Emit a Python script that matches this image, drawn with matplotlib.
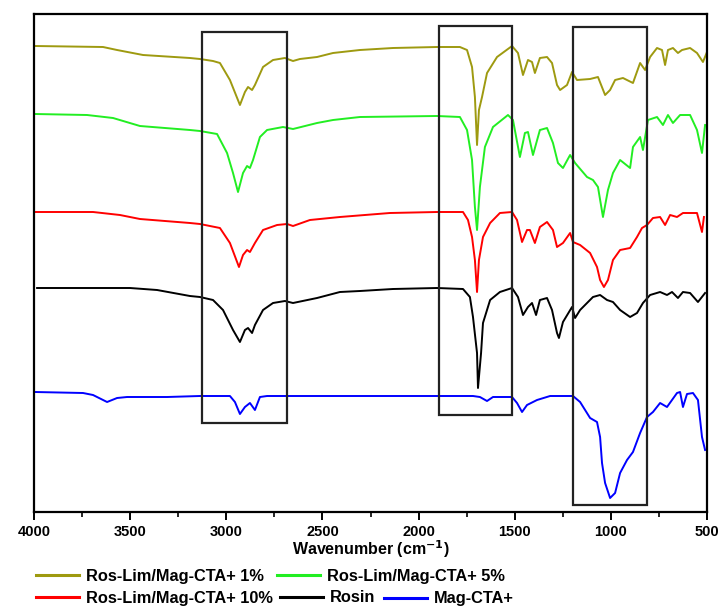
import matplotlib
matplotlib.use("Agg")
import matplotlib.pyplot as plt
from matplotlib.patches import Rectangle
from matplotlib.ticker import MultipleLocator

plt.rcParams['font.family'] = ['Liberation Sans', 'DejaVu Sans']
plt.rcParams['font.weight'] = 'bold'

# ---- data (wavenumber cm^-1, offset transmittance a.u.) ----
wn_1 = [3995, 3641, 3568, 3433, 3189, 3137, 3069, 3033, 2981, 2929, 2903, 2887, 2866, 2851,
        2809, 2757, 2695, 2653, 2617, 2528, 2445, 2305, 2133, 1904, 1785, 1748, 1722, 1707,
        1696, 1686, 1670, 1644, 1592, 1514, 1483, 1457, 1431, 1410, 1395, 1369, 1332, 1306,
        1280, 1264, 1228, 1202, 1176, 1108, 1067, 1030, 1004, 978, 937, 885, 848, 822, 796,
        760, 734, 718, 703, 677, 651, 630, 588, 552, 521, 500]
t_1 = [466, 465, 462, 457, 454, 453, 451, 449, 432, 407, 420, 425, 422, 427,
       445, 452, 454, 451, 453, 455, 459, 462, 464, 465, 465, 462, 445, 415,
       367, 402, 415, 439, 455, 466, 459, 437, 452, 450, 439, 454, 455, 449,
       427, 422, 427, 440, 432, 433, 435, 417, 422, 432, 434, 429, 449, 442, 455,
       464, 462, 447, 462, 464, 459, 462, 464, 459, 450, 460]

wn_5 = [3995, 3724, 3589, 3449, 3189, 3137, 3048, 2996, 2965, 2939, 2913, 2892, 2877, 2861,
        2825, 2788, 2705, 2653, 2528, 2445, 2305, 1904, 1785, 1748, 1722, 1707, 1696, 1681,
        1655, 1613, 1535, 1509, 1473, 1447, 1431, 1405, 1369, 1332, 1301, 1275, 1249, 1212,
        1186, 1124, 1093, 1067, 1041, 1015, 989, 952, 900, 885, 848, 833, 807, 760, 729,
        703, 677, 640, 588, 552, 526, 510]
t_5 = [398, 397, 394, 386, 382, 381, 378, 359, 339, 320, 339, 346, 344, 352,
       375, 382, 385, 383, 389, 392, 395, 396, 395, 382, 352, 305, 282, 325,
       365, 385, 397, 392, 355, 379, 380, 357, 382, 384, 369, 349, 344, 357,
       349, 335, 332, 325, 295, 322, 339, 352, 344, 365, 375, 362, 392, 395, 387,
       397, 389, 397, 397, 382, 359, 387]

wn_10 = [3995, 3693, 3553, 3449, 3189, 3137, 3033, 2981, 2934, 2913, 2892, 2877, 2851, 2809,
         2736, 2684, 2653, 2565, 2409, 2149, 1904, 1769, 1743, 1722, 1707, 1696, 1686, 1665,
         1628, 1577, 1514, 1488, 1462, 1436, 1421, 1395, 1369, 1332, 1301, 1280, 1249, 1212,
         1197, 1160, 1108, 1072, 1056, 1036, 1015, 989, 952, 900, 864, 838, 812, 781, 744,
         718, 692, 656, 625, 552, 526, 516]
t_10 = [300, 300, 297, 293, 289, 288, 284, 269, 245, 257, 262, 260, 269, 282,
        287, 288, 286, 292, 295, 299, 300, 300, 292, 275, 252, 220, 252, 275,
        289, 299, 300, 292, 270, 282, 282, 269, 285, 290, 282, 265, 269, 279,
        270, 267, 259, 245, 232, 225, 232, 252, 262, 264, 275, 284, 287, 294, 295,
        287, 297, 295, 299, 299, 280, 295]

wn_rosin = [3984, 3745, 3501, 3360, 3189, 3137, 3069, 3017, 2965, 2929, 2903, 2887, 2866, 2851,
            2809, 2757, 2695, 2653, 2528, 2409, 2305, 2133, 1904, 1769, 1733, 1717, 1696, 1691,
            1675, 1665, 1628, 1577, 1514, 1483, 1457, 1431, 1410, 1389, 1369, 1332, 1306, 1280,
            1270, 1249, 1202, 1186, 1160, 1093, 1056, 1020, 989, 952, 900, 864, 833, 796,
            744, 708, 682, 651, 625, 588, 547, 510]
t_rosin = [224, 224, 224, 222, 216, 215, 212, 202, 182, 170, 182, 184, 179, 187,
           202, 209, 211, 209, 214, 220, 221, 223, 224, 223, 215, 195, 159, 124,
           159, 189, 212, 220, 224, 215, 197, 205, 209, 197, 212, 214, 202, 179,
           174, 190, 205, 194, 202, 215, 217, 212, 210, 202, 195, 199, 209, 217,
           220, 217, 220, 214, 220, 219, 210, 219]

wn_mag = [3995, 3745, 3693, 3620, 3568, 3516, 3308, 3137, 2981, 2955, 2929, 2903, 2877, 2851,
          2825, 2788, 2305, 1717, 1681, 1644, 1613, 1514, 1488, 1462, 1436, 1384, 1316, 1197,
          1160, 1108, 1072, 1056, 1046, 1030, 1004, 978, 952, 916, 885, 848, 812, 781, 744,
          708, 656, 640, 625, 604, 573, 547, 526, 510]
t_mag = [120, 119, 117, 110, 114, 115, 115, 116, 116, 110, 98, 105, 109, 102,
         115, 116, 116, 116, 115, 111, 115, 115, 109, 100, 107, 112, 116, 116,
         110, 94, 90, 75, 49, 29, 14, 19, 39, 52, 60, 79, 95, 100, 109,
         105, 119, 120, 105, 118, 119, 112, 75, 62]

labels = ['Ros-Lim/Mag-CTA+ 1%', 'Ros-Lim/Mag-CTA+ 5%', 'Ros-Lim/Mag-CTA+ 10%',
          'Rosin', 'Mag-CTA+']
colors = ['#9E9A10', '#22EE22', '#FF0000', '#000000', '#0000FF']

# highlight boxes: (wn_high, wn_low, t_bottom, t_top)
boxes = [(3126, 2684, 89, 480), (1895, 1514, 97, 486), (1197, 812, 7, 485)]

fig = plt.figure(figsize=(7.21, 6.07), dpi=100)
ax = fig.add_axes([34/721, 1 - 512/607, (707 - 34)/721, (512 - 14)/607])

series = [(wn_1, t_1), (wn_5, t_5), (wn_10, t_10), (wn_rosin, t_rosin), (wn_mag, t_mag)]
handles = []
for (x, y), lab, c in zip(series, labels, colors):
    h, = ax.plot(x, y, color=c, lw=1.4, label=lab)
    handles.append(h)

for hi, lo, b, t in boxes:
    ax.add_patch(Rectangle((lo, b), hi - lo, t - b, fill=False, ec='#222222', lw=1.6, zorder=5))

ax.set_xlim(4000, 500)
ax.set_ylim(0, 498)
ax.set_yticks([])
ax.xaxis.set_major_locator(MultipleLocator(500))
ax.xaxis.set_minor_locator(MultipleLocator(250))
ax.tick_params(axis='x', which='major', direction='out', length=6, width=1.4, labelsize=10.5, pad=3)
ax.tick_params(axis='x', which='minor', direction='out', length=3.5, width=1.2)
for lab in ax.get_xticklabels():
    lab.set_fontweight('bold')
for s in ax.spines.values():
    s.set_linewidth(1.6)
ax.set_xlabel('Wavenumber (cm$^{\\mathbf{-1}}$)', fontsize=11.5, fontweight='bold', labelpad=0)

# legend entries placed one by one (x of handle start in px, y centre in px)
leg_pos = [(36, 576), (277, 576), (36, 598), (280, 598), (384, 599)]
leg_kw = dict(frameon=False, prop={'weight': 'bold', 'size': 11.8}, handlelength=2.65,
              handletextpad=0.42, borderaxespad=0, borderpad=0, loc='center left')
for h, lab, (px, py) in zip(handles, labels, leg_pos):
    lg = fig.legend([h], [lab], bbox_to_anchor=(px/721, 1 - py/607), **leg_kw)
    for ln in lg.get_lines():
        ln.set_linewidth(2.2)

fig.savefig('out.png', dpi=100)
